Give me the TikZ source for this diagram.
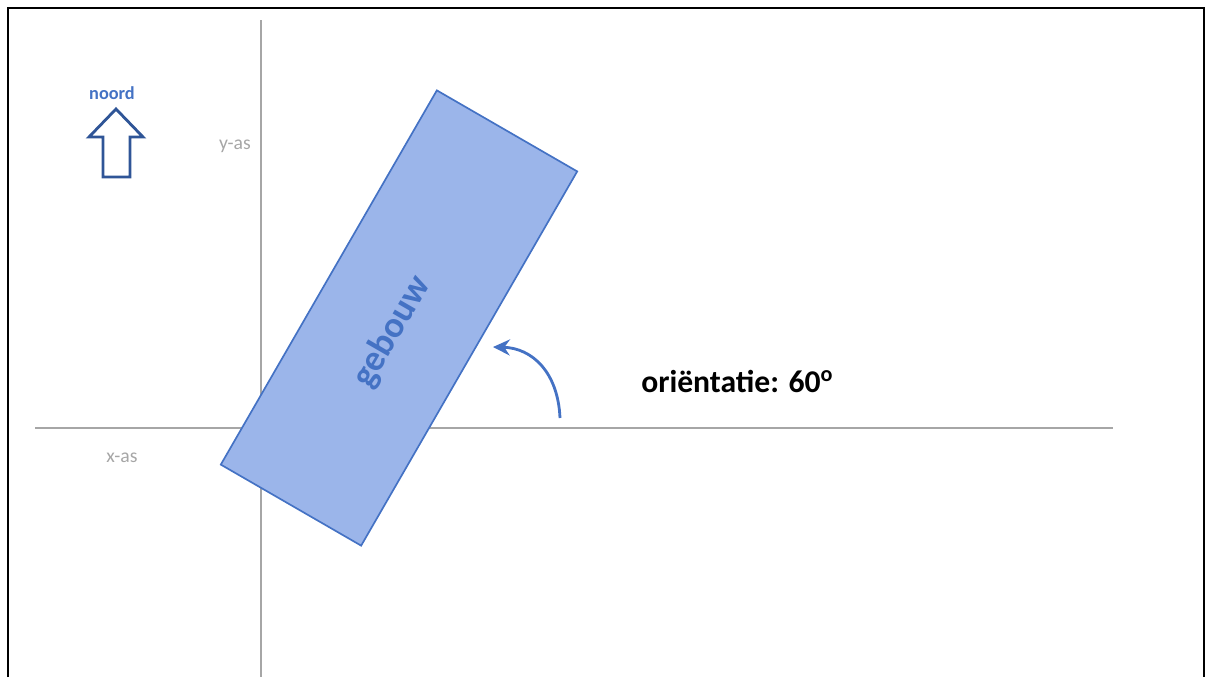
\documentclass[tikz,border=0pt]{standalone}
\usepackage{fontspec}
\setmainfont{Carlito}
\usepackage{tikz}
\usetikzlibrary{positioning,arrows.meta}

\definecolor{bldfill}{HTML}{9BB5EA}
\definecolor{bldline}{HTML}{4472C4}
\definecolor{axisgray}{HTML}{A6A6A6}
\definecolor{northblue}{HTML}{2F5597}

\begin{document}
\begin{tikzpicture}[
    x=0.025cm, y=-0.025cm,
    axis/.style={draw=axisgray, line width=1.1pt},
    axislabel/.style={text=axisgray, font=\fontsize{14}{16}\selectfont, inner sep=0pt},
    building/.style={rectangle, draw=bldline, fill=bldfill, line width=1.2pt, inner sep=0pt, outer sep=0pt, minimum width=10.8cm, minimum height=4.05cm},
    buildlabel/.style={text=bldline, font=\fontsize{26}{28}\selectfont\bfseries, inner sep=0pt},
    northarrow/.style={draw=northblue, line width=2pt, line join=miter, fill=white},
    anglearrow/.style={-{Stealth[length=4.2mm, width=4mm]}, draw=bldline, line width=2pt},
    title/.style={font=\fontsize{22.5}{25}\selectfont\bfseries, inner sep=0pt}
]
\useasboundingbox (0,0) rectangle (1209,677);

% Frame (open at the bottom)
\draw[line width=1.5pt] (8,677) -- (8,8) -- (1204,8) -- (1204,677);

% Axes
\draw[axis] (261,20) -- (261,677);
\draw[axis] (35,428) -- (1113,428);
\node[axislabel] (yas) at (235,146) {y-as};
\node[axislabel] (xas) at (122,458) {x-as};

% North arrow
\node[text=bldline, font=\fontsize{13}{15}\selectfont\bfseries, inner sep=0pt] (noord) at (112,93) {noord};
\draw[northarrow] (116,109) -- (143,137) -- (130,137) -- (130,177) -- (103,177) -- (103,137) -- (89,137) -- cycle;

% Building
\node[building, rotate=60] (gebouw) at (399,318) {};
\node[buildlabel, rotate=60] (gebouwtxt) at (392,332) {gebouw};

% Orientation
\coordinate (arcstart) at (560,418);
\coordinate (arcend) at (493,347);
\draw[anglearrow] (arcstart) .. controls (558,372) and (532,348) .. (arcend);
\node[title, anchor=west] (orient) at (641,381) {oriëntatie: 60\textsuperscript{o}};

\end{tikzpicture}
\end{document}
